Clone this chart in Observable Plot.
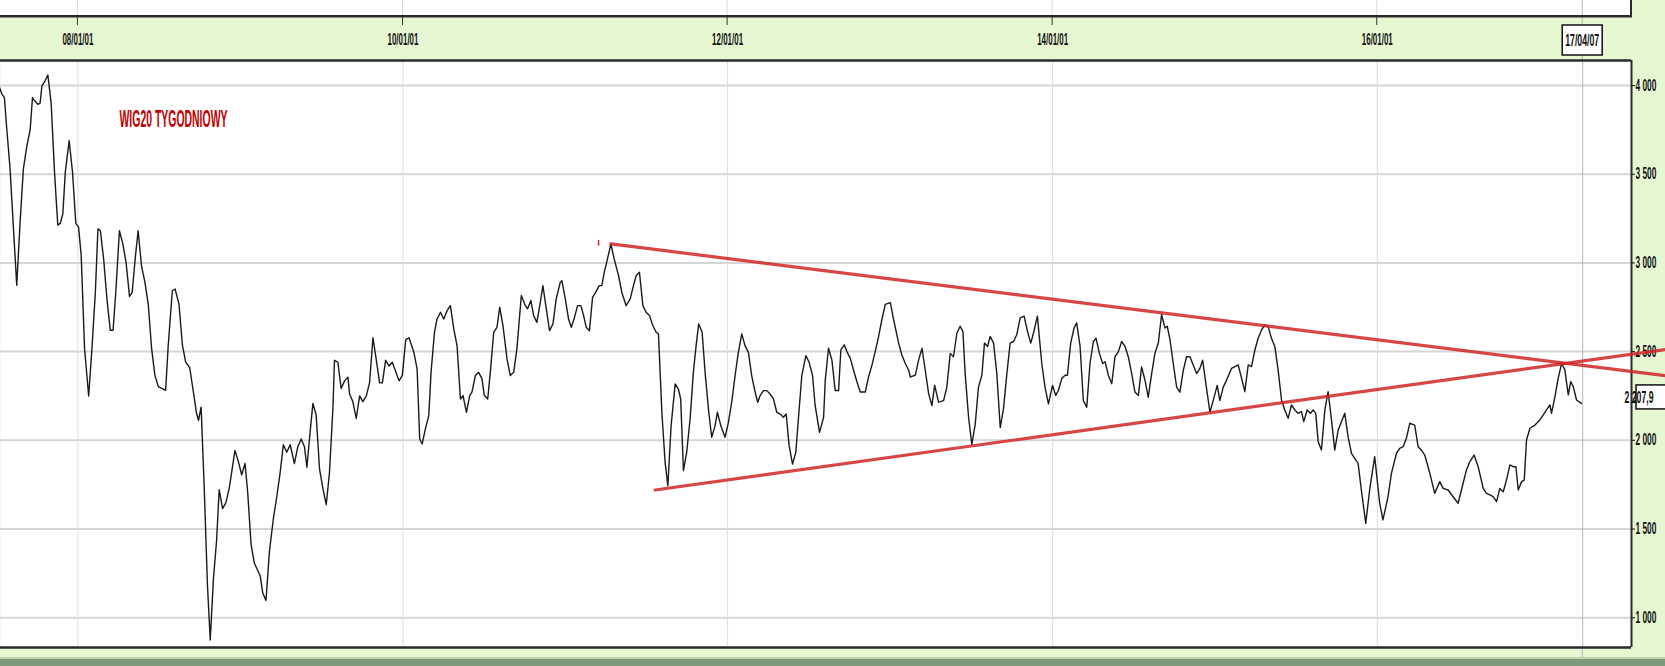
<!DOCTYPE html>
<html><head><meta charset="utf-8">
<script src="https://cdn.jsdelivr.net/npm/d3@7"></script>
<script src="https://cdn.jsdelivr.net/npm/@observablehq/plot@0.6"></script>
<style>
html,body{margin:0;padding:0;background:#e6f8d2;}
#chart{width:1665px;height:666px;overflow:hidden;position:relative;}
</style></head><body><div id="chart"></div>
<script>
// ---- data: [decimal year, WIG20 weekly close] ----
const series2007_2009 = [[2007.510,4006],[2007.531,3953],[2007.547,3932],[2007.561,3763],[2007.582,3530],[2007.603,3192],[2007.623,2874],[2007.644,3234],[2007.664,3530],[2007.685,3657],[2007.706,3752],[2007.720,3932],[2007.736,3911],[2007.753,3894],[2007.767,3901],[2007.778,3996],[2007.798,4028],[2007.815,4059],[2007.835,3901],[2007.856,3509],[2007.876,3213],[2007.891,3223],[2007.907,3276],[2007.922,3509],[2007.946,3689],[2007.967,3509],[2007.987,3223],[2008.004,3202],[2008.020,3044],[2008.041,2515],[2008.066,2250],[2008.086,2515],[2008.107,2832],[2008.123,3192],[2008.138,3181],[2008.158,3022],[2008.179,2790],[2008.199,2620],[2008.216,2620],[2008.234,2853],[2008.255,3181],[2008.276,3107],[2008.296,3001],[2008.317,2811],[2008.333,2832],[2008.354,3044],[2008.370,3181],[2008.391,2980],[2008.411,2895],[2008.432,2768],[2008.453,2515],[2008.473,2366],[2008.494,2303],[2008.518,2292],[2008.539,2282],[2008.555,2536],[2008.580,2843],[2008.597,2853],[2008.621,2768],[2008.642,2536],[2008.662,2441],[2008.687,2409],[2008.708,2282],[2008.728,2155],[2008.741,2113],[2008.757,2187],[2008.776,1732],[2008.796,1182],[2008.813,875],[2008.833,1224],[2008.852,1435],[2008.868,1721],[2008.889,1615],[2008.909,1647],[2008.930,1732],[2008.951,1859],[2008.965,1943],[2008.986,1880],[2009.006,1806],[2009.027,1869],[2009.043,1710],[2009.064,1414],[2009.084,1308],[2009.105,1266],[2009.121,1234],[2009.136,1139],[2009.156,1097],[2009.177,1372],[2009.202,1562],[2009.222,1679],[2009.243,1816],[2009.263,1975],[2009.284,1933],[2009.305,1975],[2009.331,1869],[2009.352,1964],[2009.373,2007],[2009.393,1964],[2009.408,1848],[2009.428,2049],[2009.445,2208],[2009.465,2144],[2009.486,1837],[2009.506,1732],[2009.527,1637],[2009.547,1816],[2009.568,2176],[2009.578,2451],[2009.599,2440],[2009.619,2292],[2009.640,2335],[2009.661,2356],[2009.671,2261],[2009.691,2218],[2009.712,2123],[2009.733,2250],[2009.753,2218],[2009.774,2250],[2009.794,2324],[2009.815,2578],[2009.836,2451],[2009.856,2324],[2009.873,2324],[2009.893,2451],[2009.914,2419],[2009.934,2440],[2009.955,2388],[2009.976,2335],[2009.996,2366],[2010.017,2567],[2010.037,2578]];
const series2010_2012 = [[2010.067,2496],[2010.087,2402],[2010.103,2007],[2010.118,1979],[2010.138,2064],[2010.159,2139],[2010.173,2383],[2010.194,2609],[2010.210,2684],[2010.231,2722],[2010.251,2684],[2010.272,2731],[2010.292,2759],[2010.313,2628],[2010.333,2534],[2010.354,2233],[2010.370,2252],[2010.391,2158],[2010.411,2252],[2010.425,2271],[2010.446,2365],[2010.466,2383],[2010.487,2346],[2010.501,2252],[2010.522,2233],[2010.538,2383],[2010.559,2609],[2010.579,2637],[2010.596,2750],[2010.616,2647],[2010.641,2459],[2010.661,2365],[2010.682,2383],[2010.702,2515],[2010.729,2816],[2010.754,2759],[2010.768,2741],[2010.788,2788],[2010.805,2703],[2010.825,2665],[2010.846,2778],[2010.862,2872],[2010.883,2741],[2010.903,2618],[2010.924,2656],[2010.944,2797],[2010.969,2891],[2010.979,2900],[2011.000,2797],[2011.020,2684],[2011.037,2637],[2011.057,2694],[2011.076,2759],[2011.096,2759],[2011.113,2703],[2011.129,2637],[2011.149,2618],[2011.168,2806],[2011.188,2835],[2011.209,2872],[2011.225,2872],[2011.240,2947],[2011.260,3023],[2011.281,3107],[2011.301,3023],[2011.328,2929],[2011.348,2835],[2011.375,2759],[2011.400,2797],[2011.420,2872],[2011.437,2929],[2011.457,2947],[2011.478,2759],[2011.498,2722],[2011.519,2703],[2011.539,2647],[2011.560,2609],[2011.574,2600],[2011.595,2158],[2011.615,1876],[2011.632,1744],[2011.652,2083],[2011.677,2318],[2011.697,2289],[2011.711,2233],[2011.728,1829],[2011.748,1932],[2011.769,2120],[2011.789,2383],[2011.806,2534],[2011.822,2656],[2011.843,2609],[2011.863,2365],[2011.884,2158],[2011.902,2017],[2011.923,2083],[2011.937,2158],[2011.958,2083],[2011.984,2017],[2012.005,2101],[2012.025,2214],[2012.046,2365],[2012.066,2496],[2012.087,2600],[2012.107,2534],[2012.128,2496],[2012.148,2365],[2012.165,2289],[2012.185,2214],[2012.200,2252],[2012.220,2280],[2012.241,2280],[2012.261,2261],[2012.282,2233],[2012.302,2158],[2012.323,2148],[2012.343,2130],[2012.360,2148],[2012.378,1970],[2012.399,1866],[2012.419,1932],[2012.435,2120],[2012.456,2365],[2012.481,2477],[2012.501,2440],[2012.522,2365],[2012.538,2195],[2012.565,2045]];
const series2012_2015 = [[2012.590,2129],[2012.600,2338],[2012.620,2519],[2012.641,2452],[2012.661,2281],[2012.682,2281],[2012.696,2510],[2012.717,2538],[2012.733,2500],[2012.754,2462],[2012.774,2395],[2012.795,2329],[2012.815,2272],[2012.846,2272],[2012.866,2357],[2012.887,2424],[2012.907,2500],[2012.928,2586],[2012.948,2681],[2012.969,2766],[2013.000,2776],[2013.020,2681],[2013.051,2548],[2013.071,2481],[2013.092,2433],[2013.113,2395],[2013.123,2357],[2013.154,2367],[2013.174,2452],[2013.195,2519],[2013.215,2395],[2013.236,2262],[2013.256,2196],[2013.273,2310],[2013.297,2215],[2013.328,2224],[2013.348,2300],[2013.369,2490],[2013.389,2471],[2013.410,2605],[2013.430,2643],[2013.447,2614],[2013.461,2376],[2013.482,2129],[2013.502,1977],[2013.523,2091],[2013.543,2300],[2013.564,2367],[2013.580,2548],[2013.599,2529],[2013.615,2586],[2013.636,2548],[2013.656,2376],[2013.677,2072],[2013.697,2177],[2013.718,2376],[2013.738,2548],[2013.759,2557],[2013.779,2595],[2013.800,2690],[2013.824,2700],[2013.845,2614],[2013.865,2548],[2013.882,2605],[2013.906,2700],[2013.933,2433],[2013.953,2300],[2013.974,2205],[2013.999,2310],[2014.019,2253],[2014.035,2281],[2014.056,2348],[2014.077,2367],[2014.091,2367],[2014.111,2548],[2014.132,2633],[2014.148,2662],[2014.169,2529],[2014.189,2224],[2014.210,2186],[2014.230,2433],[2014.251,2557],[2014.267,2576],[2014.288,2490],[2014.308,2433],[2014.323,2443],[2014.343,2367],[2014.364,2319],[2014.384,2471],[2014.405,2500],[2014.425,2557],[2014.446,2529],[2014.466,2471],[2014.487,2376],[2014.507,2272],[2014.528,2253],[2014.548,2414],[2014.569,2338],[2014.589,2243],[2014.610,2376],[2014.630,2490],[2014.651,2548],[2014.671,2709],[2014.692,2633],[2014.706,2643],[2014.723,2567],[2014.743,2433],[2014.764,2300],[2014.784,2272],[2014.805,2395],[2014.825,2471],[2014.846,2471],[2014.866,2424],[2014.887,2376],[2014.907,2405],[2014.924,2452],[2014.944,2319],[2014.969,2158],[2014.989,2224],[2015.014,2310],[2015.030,2224],[2015.051,2300],[2015.071,2338],[2015.102,2405]];
const series2015_2017 = [[2015.123,2415],[2015.143,2425],[2015.164,2350],[2015.184,2274],[2015.205,2425],[2015.225,2415],[2015.246,2509],[2015.266,2575],[2015.287,2622],[2015.307,2650],[2015.328,2641],[2015.348,2575],[2015.369,2528],[2015.389,2397],[2015.410,2227],[2015.430,2171],[2015.451,2124],[2015.471,2199],[2015.492,2171],[2015.512,2152],[2015.533,2162],[2015.547,2105],[2015.568,2171],[2015.588,2152],[2015.605,2171],[2015.621,2152],[2015.636,1992],[2015.656,1945],[2015.677,2171],[2015.697,2274],[2015.718,2115],[2015.738,1945],[2015.759,2058],[2015.800,2152],[2015.820,2021],[2015.841,1927],[2015.861,1898],[2015.882,1870],[2015.902,1720],[2015.929,1532],[2015.953,1720],[2015.984,1908],[2016.015,1645],[2016.035,1551],[2016.066,1682],[2016.087,1814],[2016.118,1927],[2016.138,1955],[2016.159,1964],[2016.179,2011],[2016.200,2096],[2016.230,2086],[2016.251,1964],[2016.271,1945],[2016.292,1917],[2016.323,1814],[2016.353,1701],[2016.384,1767],[2016.405,1729],[2016.435,1720],[2016.466,1682],[2016.497,1645],[2016.517,1720],[2016.548,1833],[2016.569,1880],[2016.595,1917],[2016.620,1851],[2016.651,1729],[2016.671,1701],[2016.692,1692],[2016.712,1682],[2016.733,1654],[2016.753,1729],[2016.774,1710],[2016.794,1776],[2016.815,1861],[2016.835,1851],[2016.852,1851],[2016.866,1720],[2016.887,1767],[2016.903,1776],[2016.917,2002],[2016.938,2068],[2016.969,2086],[2016.999,2115],[2017.020,2143],[2017.040,2171],[2017.061,2199],[2017.071,2152],[2017.092,2246],[2017.112,2350],[2017.133,2434],[2017.153,2397],[2017.174,2256],[2017.189,2331],[2017.205,2303],[2017.225,2227],[2017.255,2208]];

const upperTrend = [[2011.281,3107],[2017.78,2363]];
const lowerTrend = [[2011.553,1720],[2017.78,2513]];
const smallRedMark = [[2011.205,3101],[2011.205,3126]];

const xTicks = ["2008-01-01","2010-01-01","2012-01-01","2014-01-01","2016-01-01"];
const xTickLabels = ["08/01/01","10/01/01","12/01/01","14/01/01","16/01/01"];
const yTicks = [1000,1500,2000,2500,3000,3500,4000];
const yTickLabels = ["1 000","1 500","2 000","2 500","3 000","3 500","4 000"];
const lastDate = "2017-04-07";
const lastDateLabel = "17/04/07";
const lastValue = 2207.9;
const lastValueLabel = "2 207,9";
const title = "WIG20 TYGODNIOWY";

// ---- helpers ----
function yd(y){const Y=Math.floor(y);const s=Date.UTC(Y,0,1),e=Date.UTC(Y+1,0,1);return new Date(s+(y-Y)*(e-s));}
const toRows = a => a.map(([t,v]) => ({date: yd(t), value: v}));
const rows = toRows([...series2007_2009, ...series2010_2012, ...series2012_2015, ...series2015_2017]);
const xTickDates = xTicks.map(d => new Date(d));
const FONT = "'Liberation Sans Narrow','Liberation Sans',Arial,sans-serif";
const xDomain = [yd(2007.523), yd(2017.5636)];
const yDomain = [832, 4141];
const red = "#d02525";

const chart = Plot.plot({
  width: 1665, height: 666,
  marginTop: 60, marginBottom: 19, marginLeft: 0, marginRight: 34,
  style: {background: "transparent", overflow: "visible", fontFamily: FONT, color: "#111"},
  x: {type: "utc", domain: xDomain},
  y: {domain: yDomain},
  marks: [
    Plot.frame({fill: "white", stroke: null}),
    Plot.gridY({ticks: yTicks, stroke: "#d6d6d6", strokeWidth: 2, strokeOpacity: 1}),
    Plot.gridX({ticks: xTickDates, stroke: "#dcdcdc", strokeOpacity: 1}),
    Plot.ruleX([new Date(lastDate)], {stroke: "#b4b4b4", strokeWidth: 1}),
    Plot.line(rows, {x: "date", y: "value", stroke: "#1a1a1a", strokeWidth: 1.4}),
    Plot.ruleY([yDomain[0]], {stroke: "#2a2a2a", strokeWidth: 2.5}),
    Plot.ruleY([yDomain[1]], {stroke: "#2a2a2a", strokeWidth: 2.5}),
    Plot.ruleX([xDomain[1]], {stroke: "#2a2a2a", strokeWidth: 2}),
    Plot.axisY({anchor: "right", label: null, ticks: yTicks, tickFormat: d => yTickLabels[yTicks.indexOf(d)], tickSize: 3, tickPadding: 1, fontSize: 16, fontWeight: "bold", stroke: "#111"}),
    Plot.axisX({anchor: "top", label: null, ticks: xTickDates, tickFormat: d => xTickLabels[xTickDates.findIndex(t => +t === +d)], tickSize: 0, tickPadding: 16, fontSize: 17, fontWeight: "bold"}),
    Plot.text([title], {frameAnchor: "top-left", dx: 119, dy: 50, lineAnchor: "top", textAnchor: "start", fontSize: 23, fontWeight: "bold", fill: "#c00000"}),
    Plot.line(toRows(upperTrend), {x: "date", y: "value", stroke: red, strokeWidth: 3.2, strokeOpacity: 0.85}),
    Plot.line(toRows(lowerTrend), {x: "date", y: "value", stroke: red, strokeWidth: 3.2, strokeOpacity: 0.85}),
    Plot.line(toRows(smallRedMark), {x: "date", y: "value", stroke: red, strokeWidth: 1.5})
  ]
});

document.getElementById("chart").appendChild(chart);
const svg = d3.select(chart);
const xs = chart.scale("x"), ys = chart.scale("y");
const xRight = xs.apply(xDomain[1]);

// horizontally condense a text element to a target width (keeps glyph height)
function condense(node, width) {
  const bb = node.getBBox();
  if (!bb.width) return;
  const anchor = getComputedStyle(node).textAnchor;
  const ax = anchor === "middle" ? bb.x + bb.width / 2 : anchor === "end" ? bb.x + bb.width : bb.x;
  const s = width / bb.width;
  const t = node.getAttribute("transform") || "";
  node.setAttribute("transform", `${t} translate(${ax},0) scale(${s},1) translate(${-ax},0)`);
}

svg.selectAll('[aria-label="x-axis tick label"] text').attr("fill", "#111").each(function(){ condense(this, 31); });
svg.selectAll('[aria-label="y-axis tick label"] text').attr("fill", "#111").each(function(){ condense(this, 21); });
svg.selectAll('[aria-label="text"] text').each(function(){ condense(this, 108); });

// decorations underneath
const under = svg.insert("g", ":first-child");
under.append("rect").attr("x", 0).attr("y", 0).attr("width", xRight).attr("height", 15.5).attr("fill", "white");
xTickDates.forEach(d => under.append("line").attr("x1", xs.apply(d)).attr("x2", xs.apply(d)).attr("y1", 0).attr("y2", 15).attr("stroke", "#dcdcdc"));
under.append("line").attr("x1", xs.apply(new Date(lastDate))).attr("x2", xs.apply(new Date(lastDate))).attr("y1", 0).attr("y2", 662).attr("stroke", "#b4b4b4");
under.append("rect").attr("x", 0).attr("y", 659).attr("width", 1665).attr("height", 7).attr("fill", "#80997a");
under.append("rect").attr("x", 0).attr("y", 657).attr("width", 1665).attr("height", 2).attr("fill", "#bdd3b2");

// band borders and ticks
const over = svg.append("g");
over.append("line").attr("x1", 0).attr("x2", xRight + 1).attr("y1", 16.2).attr("y2", 16.2).attr("stroke", "#2a2a2a").attr("stroke-width", 2.5);
over.append("line").attr("x1", xRight).attr("x2", xRight).attr("y1", 0).attr("y2", 16).attr("stroke", "#2a2a2a").attr("stroke-width", 2);
xTickDates.forEach(d => over.append("line").attr("x1", xs.apply(d)).attr("x2", xs.apply(d)).attr("y1", 17).attr("y2", 25).attr("stroke", "#333"));

// current date box
const xl = xs.apply(new Date(lastDate));
over.append("rect").attr("x", xl - 20).attr("y", 25).attr("width", 40).attr("height", 30).attr("fill", "white").attr("stroke", "#111").attr("stroke-width", 1.5);
const dateText = over.append("text").attr("x", xl).attr("y", 46).attr("text-anchor", "middle").attr("font-size", 17).attr("font-weight", "bold").attr("font-family", FONT).attr("fill", "#111").text(lastDateLabel);
condense(dateText.node(), 34);

// last value box
const yv = ys.apply(lastValue);
over.append("line").attr("x1", xRight).attr("x2", xRight + 5).attr("y1", yv).attr("y2", yv - 3).attr("stroke", "#111");
over.append("rect").attr("x", xRight + 5).attr("y", yv - 18).attr("width", 40).attr("height", 24).attr("fill", "white").attr("stroke", "#111").attr("stroke-width", 1.5);
const valText = over.append("text").attr("x", xRight + 8).attr("y", yv + 0.5).attr("font-size", 16).attr("font-weight", "bold").attr("font-family", FONT).attr("fill", "#111").text(lastValueLabel);
condense(valText.node(), 29);
</script></body></html>
